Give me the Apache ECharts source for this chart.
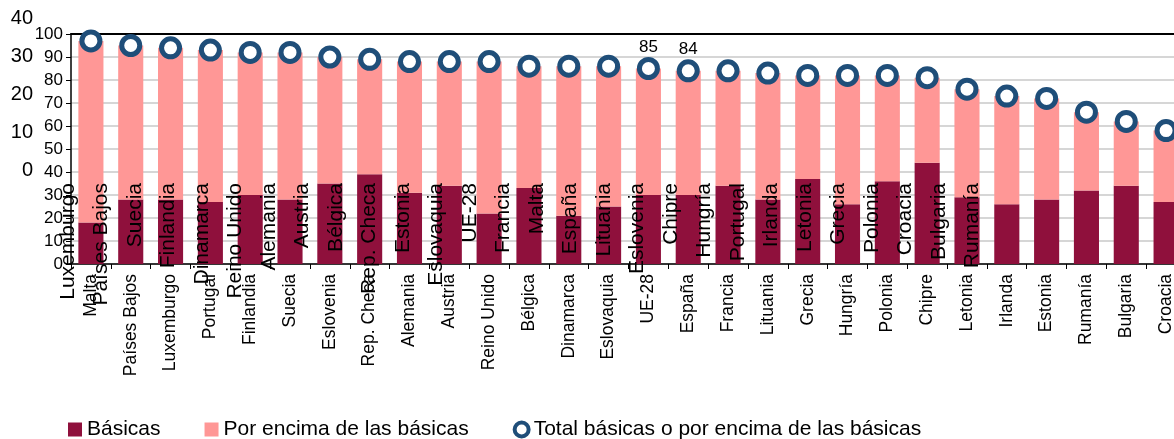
<!DOCTYPE html>
<html>
<head>
<meta charset="utf-8">
<script src="https://cdn.jsdelivr.net/npm/echarts@6/dist/echarts.min.js"></script>
<style>
  html, body { margin: 0; padding: 0; background: #fff; }
  #chart { width: 1174px; height: 439px; }
</style>
</head>
<body>
<div id="chart"></div>
<script>
// paises (eje principal)
var categories = ["Malta", "Países Bajos", "Luxemburgo", "Portugal", "Finlandia", "Suecia", "Eslovenia", "Rep. Checa",
  "Alemania", "Austria", "Reino Unido", "Bélgica", "Dinamarca", "Eslovaquia", "UE-28", "España", "Francia",
  "Lituania", "Grecia", "Hungría", "Polonia", "Chipre", "Letonia", "Irlanda", "Estonia", "Rumanía", "Bulgaria", "Croacia"];
var basicas = [18, 28, 28, 27, 30, 28, 35, 39, 31, 34, 22, 33, 21, 25, 30, 30, 34, 28, 37, 26, 36, 44, 29, 26, 28, 32, 34, 27];
var encima = [79, 67, 66, 66, 62, 64, 55, 50, 57, 54, 66, 53, 65, 61, 55, 54, 50, 55, 45, 56, 46, 37, 47, 47, 44, 34, 28, 31];
var totales = [97, 95, 94, 93, 92, 92, 90, 89, 88, 88, 88, 86, 86, 86, 85, 84, 84, 83, 82, 82, 82, 81, 76, 73, 72, 66, 62, 58];
var conEtiqueta = ["UE-28", "España"];

// restos del otro grafico que quedan superpuestos
var otrasCategorias = ["Luxemburgo", "Países Bajos", "Suecia", "Finlandia", "Dinamarca", "Reino Unido", "Alemania",
  "Austria", "Bélgica", "Rep. Checa", "Estonia", "Eslovaquia", "UE-28", "Francia", "Malta", "España", "Lituania",
  "Eslovenia", "Chipre", "Hungría", "Portugal", "Irlanda", "Letonia", "Grecia", "Polonia", "Croacia", "Bulgaria", "Rumanía"];
var otrosTicks = [0, 10, 20, 30, 40];

var font = "Liberation Sans";
var chart = echarts.init(document.getElementById("chart"));

var option = {
  animation: false,
  textStyle: { fontFamily: font, color: "#000" },
  grid: [
    { left: 71, width: 1115, top: 34, bottom: 175, outerBoundsMode: "none" },
    { left: 51, right: 185, top: 18, bottom: 269, outerBoundsMode: "none" }
  ],
  legend: {
    left: 63,
    top: 414,
    itemWidth: 14,
    itemHeight: 14,
    itemGap: 44,
    textStyle: { fontFamily: font, fontSize: 21, color: "#000" },
    data: [
      { name: "Básicas", icon: "rect" },
      { name: "Por encima de las básicas", icon: "rect" },
      { name: "Total básicas o por encima de las básicas", icon: "circle",
        itemStyle: { color: "#fff", borderColor: "#1f4e79", borderWidth: 4 } }
    ]
  },
  xAxis: [
    {
      type: "category",
      gridIndex: 0,
      data: categories,
      axisLine: { lineStyle: { color: "#000", width: 1.5 } },
      axisTick: { show: true, length: 5, lineStyle: { color: "#000" } },
      axisLabel: { rotate: 90, margin: 10, fontSize: 17.5, color: "#000", interval: 0 }
    },
    {
      type: "category",
      gridIndex: 0,
      position: "top",
      data: categories,
      axisLine: { lineStyle: { color: "#000", width: 2 } },
      axisTick: { show: false },
      axisLabel: { show: false }
    },
    {
      type: "category",
      gridIndex: 1,
      data: otrasCategorias,
      z: 10,
      axisLine: { show: false },
      axisTick: { show: false },
      axisLabel: { rotate: 90, margin: 13, fontSize: 21, color: "#000", interval: 0 }
    }
  ],
  yAxis: [
    {
      type: "value",
      gridIndex: 0,
      min: 0,
      max: 100,
      interval: 10,
      axisLine: { show: true, lineStyle: { color: "#000", width: 1.5 } },
      axisTick: { show: true, length: 5, lineStyle: { color: "#000" } },
      axisLabel: { fontSize: 17, color: "#000", margin: 8 },
      splitLine: { lineStyle: { color: "#c8c8c8", width: 1.5 } }
    },
    {
      type: "value",
      gridIndex: 1,
      min: otrosTicks[0],
      max: otrosTicks[otrosTicks.length - 1],
      interval: 10,
      z: 10,
      axisLine: { show: false },
      axisTick: { show: false },
      splitLine: { show: false },
      axisLabel: { fontSize: 20, color: "#000", margin: 18 }
    }
  ],
  series: [
    {
      name: "Básicas",
      type: "bar",
      stack: "total",
      barWidth: "63%",
      xAxisIndex: 0,
      yAxisIndex: 0,
      itemStyle: { color: "#8f103c" },
      data: basicas
    },
    {
      name: "Por encima de las básicas",
      type: "bar",
      stack: "total",
      xAxisIndex: 0,
      yAxisIndex: 0,
      itemStyle: { color: "#ff9796" },
      data: encima
    },
    {
      name: "Total básicas o por encima de las básicas",
      type: "scatter",
      xAxisIndex: 0,
      yAxisIndex: 0,
      symbol: "circle",
      symbolSize: 18,
      z: 5,
      itemStyle: { color: "#fff", borderColor: "#1f4e79", borderWidth: 5, opacity: 1 },
      label: { show: false, position: "top", distance: 1, fontSize: 17, color: "#000", fontFamily: font },
      data: totales.map(function (v, i) {
        if (conEtiqueta.indexOf(categories[i]) >= 0) {
          return { value: v, label: { show: true } };
        }
        return v;
      })
    }
  ]
};

chart.setOption(option);
</script>
</body>
</html>
